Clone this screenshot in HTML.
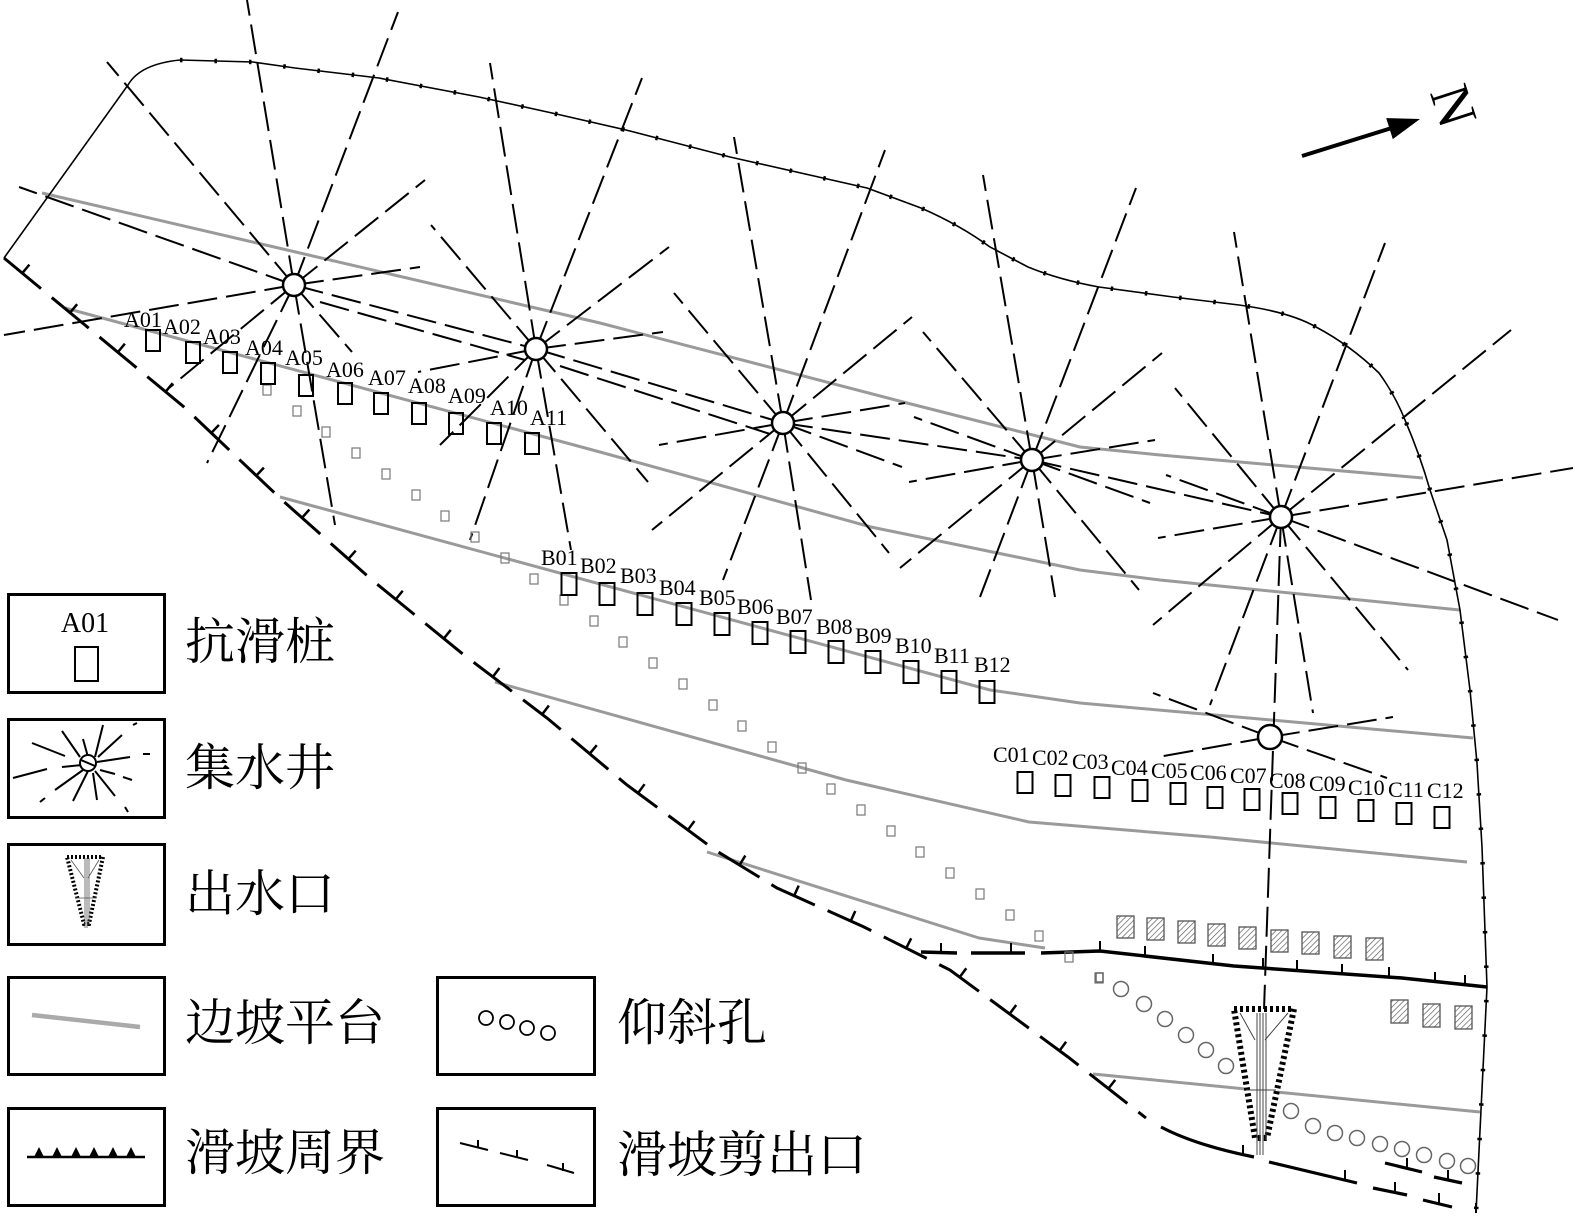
<!DOCTYPE html>
<html><head><meta charset="utf-8">
<style>
html,body{margin:0;padding:0;background:#fff;overflow:hidden;width:1575px;height:1218px;}
svg{display:block;}
.lbl{font-family:"Liberation Serif","DejaVu Serif",serif;font-size:22px;fill:#000;}
.cjk{font-family:"Liberation Serif","Noto Serif CJK SC",serif;font-size:50px;fill:#000;}
</style></head><body>
<svg width="1575" height="1218" viewBox="0 0 1575 1218" xmlns="http://www.w3.org/2000/svg">
<defs>
<pattern id="h" width="4" height="4" patternUnits="userSpaceOnUse" patternTransform="rotate(45)">
<line x1="0" y1="0" x2="0" y2="4" stroke="#555" stroke-width="1.3"/>
</pattern>
</defs>
<rect width="1575" height="1218" fill="#fff"/>

<!-- slope platforms (gray) -->
<g stroke="#9a9a9a" stroke-width="3" fill="none" stroke-linejoin="round">
<path d="M42 193 L300 253 L600 323 L907 403 L1080 447 L1160 455 L1423 478"/>
<path d="M65 308 L600 452 L871 527 L1080 570 L1160 580 L1460 610"/>
<path d="M280 497 L990 690 L1080 703 L1473 738"/>
<path d="M495 682 L846 780 L1029 822 L1210 837 L1467 862"/>
<path d="M707 852 L979 938 L1045 948"/>
<path d="M1093 1074 L1480 1112"/>
</g>

<!-- outer boundary -->
<path d="M4 258 L128 85 Q140 64 180 60 L253 62 L295 68 L379 78 L479 97 L552 113 L626 130 L730 157 L867 188 L921 208 Q960 225 990 247 L1028 267 Q1060 280 1099 287 L1173 297 L1239 305 Q1290 312 1316 327 Q1350 345 1379 373 Q1395 395 1405 420 Q1420 455 1430 490 L1447 540 L1460 610 L1470 690 L1477 763 L1482 847 L1487 987 L1481 1110 L1476 1213" fill="none" stroke="#000" stroke-width="1.6"/>
<path d="M180 60 L253 62 L295 68 L379 78 L479 97 L552 113 L626 130 L730 157 L867 188 L921 208 Q960 225 990 247 L1028 267 Q1060 280 1099 287 L1173 297 L1239 305 Q1290 312 1316 327 Q1350 345 1379 373 Q1395 395 1405 420 Q1420 455 1430 490 L1447 540 L1460 610 L1470 690 L1477 763 L1482 847 L1487 987 L1481 1110 L1476 1213" fill="none" stroke="#000" stroke-width="4.5" stroke-dasharray="2.5 32"/>

<!-- shear outlet line (left/bottom) -->
<path d="M4 258 L184 407 L282 500 L372 580 L464 655 L547 718 L627 785 L715 850 L777 888 L864 927 L950 970 L1007 1012 L1068 1057 L1146 1118" fill="none" stroke="#000" stroke-width="3" stroke-dasharray="48 14"/>
<path transform="translate(3.5,-5)" d="M4 258 L184 407 L282 500 L372 580 L464 655 L547 718 L627 785 L715 850 L777 888 L864 927 L950 970 L1007 1012 L1068 1057 L1146 1118" fill="none" stroke="#000" stroke-width="10" stroke-dasharray="2.5 59.5" stroke-dashoffset="39"/>

<!-- lower boundary (thick with ticks) -->
<g stroke="#000" fill="none">
<path d="M921 952 L957 953 M971 953 L1025 953" stroke-width="3.5"/>
<path d="M1041 953 L1100 951 L1234 966 L1402 978 L1487 987" stroke-width="3.5"/>
<path d="M941 953 V943 M1011 953 V943 M1100 951 V941 M1145 956 V946 M1213 964 V954 M1263 968 V958 M1297 970 V960 M1342 974 V964 M1389 977 V967 M1435 982 V972 M1465 985 V975" stroke-width="2"/>
<path d="M1161 1127 Q1195 1145 1254 1157 M1269 1162 L1357 1183 M1373 1188 L1407 1195 M1423 1200 L1452 1207 M1385 1163 L1422 1172 M1434 1177 L1462 1183" stroke-width="3.2"/>
<path d="M1243 1155 V1145 M1345 1180 V1170 M1395 1192 V1182 M1439 1203 V1193 M1407 1168 V1158 M1448 1180 V1170 M1476 1213 V1203" stroke-width="2"/>
</g>

<!-- radial dashed lines from wells -->
<g stroke="#000" stroke-width="2" stroke-dasharray="30 9" fill="none">
<path d="M294 285L247 0M294 285L335 525M294 285L398 12M294 285L207 463M294 285L107 62M294 285L352 352M294 285L19 187M294 285L4 335M294 285L420 267M294 285L425 180M294 285L169 388"/>
<path d="M294 285L536 349M320 302L525 360"/>
<path d="M536 349L490 63M536 349L571 550M536 349L642 78M536 349L470 540M536 349L431 225M536 349L648 482M536 349L669 247M536 349L440 445M536 349L663 332M536 349L418 372"/>
<path d="M536 349L783 423M560 366L770 434"/>
<path d="M783 423L734 137M783 423L811 600M783 423L885 150M783 423L723 580M783 423L674 293M783 423L889 553M783 423L912 317M783 423L652 530M783 423L905 403M783 423L659 445M783 423L902 467"/>
<path d="M783 423L1032 460"/>
<path d="M1032 460L983 175M1032 460L1055 597M1032 460L1136 188M1032 460L980 597M1032 460L923 332M1032 460L1139 590M1032 460L1162 353M1032 460L900 568M1032 460L1155 440M1032 460L909 482M1032 460L914 417M1032 460L1150 503"/>
<path d="M1032 460L1281 517"/>
<path d="M1281 517L1234 232M1281 517L1313 713M1281 517L1385 243M1281 517L1210 705M1281 517L1511 330M1281 517L1153 625M1281 517L1573 468M1281 517L1158 538M1281 517L1175 388M1281 517L1408 670M1281 517L1558 620M1281 517L1166 475"/>
<path d="M1281 517L1264 1010"/>
<path d="M1270 737L1153 693M1270 737L1387 778M1270 737L1393 717M1270 737L1158 757"/>
</g>

<!-- wells -->
<g fill="#fff" stroke="#000" stroke-width="2.5">
<circle cx="294" cy="285" r="11"/>
<circle cx="536" cy="349" r="11"/>
<circle cx="783" cy="423" r="11"/>
<circle cx="1032" cy="460" r="11"/>
<circle cx="1281" cy="517" r="11"/>
<circle cx="1270" cy="737" r="12"/>
</g>

<!-- small gray squares -->
<g fill="none" stroke="#777" stroke-width="1.2">
<rect x="263" y="385" width="8" height="10"/><rect x="293" y="406" width="8" height="10"/><rect x="322" y="427" width="8" height="10"/><rect x="352" y="448" width="8" height="10"/><rect x="382" y="469" width="8" height="10"/><rect x="412" y="490" width="8" height="10"/><rect x="441" y="511" width="8" height="10"/><rect x="471" y="532" width="8" height="10"/><rect x="501" y="553" width="8" height="10"/><rect x="530" y="574" width="8" height="10"/><rect x="560" y="595" width="8" height="10"/><rect x="590" y="616" width="8" height="10"/><rect x="619" y="637" width="8" height="10"/><rect x="649" y="658" width="8" height="10"/><rect x="679" y="679" width="8" height="10"/><rect x="709" y="700" width="8" height="10"/><rect x="738" y="721" width="8" height="10"/><rect x="768" y="742" width="8" height="10"/><rect x="798" y="763" width="8" height="10"/><rect x="827" y="784" width="8" height="10"/><rect x="857" y="805" width="8" height="10"/><rect x="887" y="826" width="8" height="10"/><rect x="916" y="847" width="8" height="10"/><rect x="946" y="868" width="8" height="10"/><rect x="976" y="889" width="8" height="10"/><rect x="1006" y="910" width="8" height="10"/><rect x="1035" y="931" width="8" height="10"/><rect x="1065" y="952" width="8" height="10"/><rect x="1095" y="973" width="8" height="10"/>
</g>

<!-- A piles -->
<g fill="none" stroke="#000" stroke-width="2">
<rect x="146" y="330" width="14" height="21"/><rect x="186" y="342" width="14" height="21"/><rect x="223" y="352" width="14" height="21"/><rect x="261" y="363" width="14" height="21"/><rect x="299" y="375" width="14" height="21"/><rect x="338" y="383" width="14" height="21"/><rect x="374" y="393" width="14" height="21"/><rect x="412" y="403" width="14" height="21"/><rect x="449" y="413" width="14" height="21"/><rect x="487" y="423" width="14" height="21"/><rect x="525" y="433" width="14" height="21"/>
</g>
<g class="lbl">
<text x="124" y="327">A01</text><text x="163" y="334">A02</text><text x="203" y="344">A03</text><text x="245" y="355">A04</text><text x="285" y="365">A05</text><text x="326" y="377">A06</text><text x="368" y="385">A07</text><text x="408" y="393">A08</text><text x="448" y="403">A09</text><text x="490" y="415">A10</text><text x="530" y="425">A11</text>
</g>

<!-- B piles -->
<g fill="none" stroke="#000" stroke-width="2">
<rect x="561.5" y="573" width="15" height="22"/><rect x="599.5" y="583" width="15" height="22"/><rect x="637.5" y="593" width="15" height="22"/><rect x="676.5" y="603" width="15" height="22"/><rect x="714.5" y="613" width="15" height="22"/><rect x="752.5" y="622" width="15" height="22"/><rect x="790.5" y="631" width="15" height="22"/><rect x="828.5" y="641" width="15" height="22"/><rect x="865.5" y="651" width="15" height="22"/><rect x="903.5" y="661" width="15" height="22"/><rect x="941.5" y="671" width="15" height="22"/><rect x="979.5" y="681" width="15" height="22"/>
</g>
<g class="lbl">
<text x="541" y="565">B01</text><text x="580" y="573">B02</text><text x="620" y="583">B03</text><text x="659" y="595">B04</text><text x="699" y="605">B05</text><text x="737" y="614">B06</text><text x="776" y="624">B07</text><text x="816" y="634">B08</text><text x="855" y="643">B09</text><text x="895" y="653">B10</text><text x="934" y="663">B11</text><text x="974" y="672">B12</text>
</g>

<!-- C piles -->
<g fill="none" stroke="#000" stroke-width="2">
<rect x="1017.5" y="772" width="15" height="21"/><rect x="1055.5" y="775" width="15" height="21"/><rect x="1094.5" y="777" width="15" height="21"/><rect x="1132.5" y="780" width="15" height="21"/><rect x="1170.5" y="783" width="15" height="21"/><rect x="1207.5" y="787" width="15" height="21"/><rect x="1244.5" y="789" width="15" height="21"/><rect x="1282.5" y="793" width="15" height="21"/><rect x="1320.5" y="797" width="15" height="21"/><rect x="1358.5" y="800" width="15" height="21"/><rect x="1396.5" y="803" width="15" height="21"/><rect x="1434.5" y="807" width="15" height="21"/>
</g>
<g class="lbl">
<text x="993" y="762">C01</text><text x="1032" y="765">C02</text><text x="1072" y="769">C03</text><text x="1111" y="775">C04</text><text x="1151" y="778">C05</text><text x="1190" y="780">C06</text><text x="1230" y="783">C07</text><text x="1269" y="788">C08</text><text x="1309" y="791">C09</text><text x="1348" y="795">C10</text><text x="1388" y="797">C11</text><text x="1427" y="798">C12</text>
</g>

<!-- hatched piles -->
<g fill="url(#h)" stroke="#555" stroke-width="1.3">
<rect x="1117" y="916" width="17" height="22"/><rect x="1147" y="918" width="17" height="22"/><rect x="1178" y="921" width="17" height="22"/><rect x="1208" y="924" width="17" height="22"/><rect x="1239" y="927" width="17" height="22"/><rect x="1271" y="930" width="17" height="22"/><rect x="1302" y="932" width="17" height="22"/><rect x="1334" y="936" width="17" height="22"/><rect x="1366" y="938" width="17" height="22"/>
<rect x="1391" y="1000" width="17" height="23"/><rect x="1423" y="1004" width="17" height="23"/><rect x="1455" y="1006" width="17" height="23"/>
</g>

<!-- inclined holes -->
<g fill="none" stroke="#666" stroke-width="1.5">
<rect x="1096" y="973" width="7" height="9"/>
<circle cx="1121" cy="989" r="7.5"/><circle cx="1144" cy="1004" r="7.5"/><circle cx="1165" cy="1019" r="7.5"/><circle cx="1186" cy="1035" r="7.5"/><circle cx="1206" cy="1050" r="7.5"/><circle cx="1226" cy="1066" r="7.5"/>
<circle cx="1291" cy="1111" r="7.5"/><circle cx="1313" cy="1126" r="7.5"/><circle cx="1335" cy="1133" r="7.5"/><circle cx="1357" cy="1138" r="7.5"/><circle cx="1380" cy="1144" r="7.5"/><circle cx="1402" cy="1149" r="7.5"/><circle cx="1424" cy="1155" r="7.5"/><circle cx="1447" cy="1161" r="7.5"/><circle cx="1468" cy="1166" r="7.5"/>
</g>

<!-- outlet -->
<g>
<path d="M1234 1009 L1294 1009 L1267 1138 L1255 1138 Z" fill="#fff" stroke="#000" stroke-width="6" stroke-dasharray="3 3"/>
<path d="M1240 1013 L1255 1040 M1288 1013 L1265 1040 M1257 1013 V1155 M1260 1013 V1155 M1263 1013 V1155 M1266 1013 V1140 M1246 1090 H1276" stroke="#444" stroke-width="1" fill="none"/>
</g>

<!-- north arrow -->
<line x1="1302" y1="156" x2="1395" y2="127" stroke="#000" stroke-width="4"/>
<polygon points="1420,119 1392.8,139.1 1386.2,118.1" fill="#000"/>
<text x="1453" y="106" font-family="Liberation Serif, serif" font-size="56" text-anchor="middle" dominant-baseline="central" transform="rotate(72 1453 106)">N</text>

<!-- legend -->
<g fill="none" stroke="#000" stroke-width="3">
<rect x="8.5" y="594.5" width="156" height="98"/>
<rect x="8.5" y="719.5" width="156" height="98"/>
<rect x="8.5" y="844.5" width="156" height="100"/>
<rect x="8.5" y="977.5" width="156" height="97"/>
<rect x="8.5" y="1108.5" width="156" height="97"/>
<rect x="437.5" y="977.5" width="157" height="97"/>
<rect x="437.5" y="1108.5" width="157" height="97"/>
</g>
<text x="85" y="632" font-family="Liberation Serif, serif" font-size="28" text-anchor="middle">A01</text>
<rect x="75" y="647" width="23" height="34" fill="none" stroke="#000" stroke-width="2"/>
<g stroke="#000" stroke-width="2" fill="none">
<path d="M32 743 L65 756 M13 778 L47 769 M62 731 L80 757 M83 739 L88 757 M103 725 L95 757 M122 735 L98 757 M130 757 L97 762 M62 767 L82 765 M100 770 L115 774 M123 777 L132 780 M55 790 L83 770 M73 801 L88 771 M93 773 L97 800 M95 771 L115 796 M40 802 L45 798 M125 807 L128 812 M133 725 L137 723 M143 754 L150 754"/>
<circle cx="88" cy="763" r="8" fill="#fff"/>
<path d="M81 760 L95 766"/>
</g>
<g>
<path d="M67 857 L103 857 L89 924 L84 924 Z" fill="#fff" stroke="#000" stroke-width="4" stroke-dasharray="2 2"/>
<path d="M71 860 L84 878 M99 860 L88 878 M85 858 V928 M87 858 V928 M89 858 V925 M75 898 H96" stroke="#555" stroke-width="0.8" fill="none"/>
</g>
<line x1="32" y1="1015" x2="140" y2="1027" stroke="#aaa" stroke-width="4.5"/>
<line x1="27" y1="1157" x2="145" y2="1157" stroke="#000" stroke-width="2.5"/>
<g fill="#000">
<polygon points="34,1157 39,1147 44,1157"/><polygon points="52,1157 57,1147 62,1157"/><polygon points="71,1157 76,1147 81,1157"/><polygon points="89,1157 94,1147 99,1157"/><polygon points="108,1157 113,1147 118,1157"/><polygon points="126,1157 131,1147 136,1157"/>
</g>
<g fill="none" stroke="#000" stroke-width="1.8">
<circle cx="486" cy="1018" r="7"/><circle cx="507" cy="1022" r="7"/><circle cx="527" cy="1028" r="7"/><circle cx="548" cy="1033" r="7"/>
</g>
<g stroke="#000" stroke-width="2">
<path d="M460 1143 L488 1150 M478 1148 V1140 M500 1153 L528 1160 M517 1158 V1150 M547 1165 L574 1173 M563 1171 V1163"/>
</g>
<g class="cjk">
<text x="185" y="659">抗滑桩</text>
<text x="185" y="785">集水井</text>
<text x="185" y="911">出水口</text>
<text x="185" y="1040">边坡平台</text>
<text x="185" y="1170">滑坡周界</text>
<text x="617" y="1040">仰斜孔</text>
<text x="617" y="1172">滑坡剪出口</text>
</g>
</svg>
</body></html>
